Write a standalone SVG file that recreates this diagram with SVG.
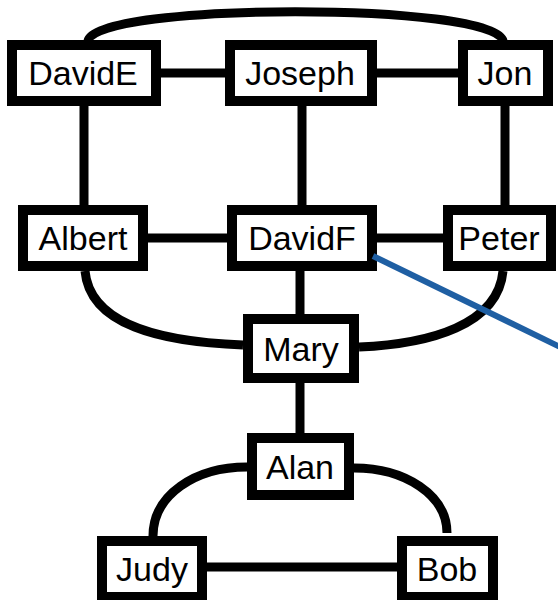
<svg xmlns="http://www.w3.org/2000/svg" width="558" height="600" viewBox="0 0 558 600">
<style>
.box{fill:#fff;stroke:#000;stroke-width:10}
.lbl{font-family:"Liberation Sans",Arial,sans-serif;font-size:34px;fill:#000;text-anchor:middle}
.edge{fill:none;stroke:#000;stroke-width:9}
</style>
<rect width="558" height="600" fill="#fff"/>
<g id="connectors">
<path class="edge" d="M88 41 C95 2,495 2,503 41"/>
<path class="edge" d="M161 73 H225"/>
<path class="edge" d="M377 73 H458"/>
<path class="edge" d="M84 106 V205"/>
<path class="edge" d="M302 106 V205"/>
<path class="edge" d="M505 106 V205"/>
<path class="edge" d="M148 238 H227"/>
<path class="edge" d="M377 238 H443"/>
<path class="edge" d="M300 271 V314"/>
<path class="edge" d="M85 271 C90 325,160 342,243 345"/>
<path class="edge" d="M503 271 C498 325,430 344,359 347"/>
<path class="edge" d="M300 383 V433"/>
<path class="edge" d="M247 467 C195 467,153 495,153 536"/>
<path class="edge" d="M354 468 C405 468,447 495,447 533"/>
<path class="edge" d="M207 567 H397"/>
</g>
<g id="DavidE"><rect class="box" x="12" y="45" width="144" height="56"/><text class="lbl" x="83" y="85">DavidE</text></g>
<g id="Joseph"><rect class="box" x="230" y="45" width="142" height="56"/><text class="lbl" x="300" y="85">Joseph</text></g>
<g id="Jon"><rect class="box" x="463" y="45" width="85" height="56"/><text class="lbl" x="505" y="85">Jon</text></g>
<g id="Albert"><rect class="box" x="23" y="210" width="120" height="56"/><text class="lbl" x="83" y="250">Albert</text></g>
<g id="DavidF"><rect class="box" x="232" y="210" width="140" height="56"/><text class="lbl" x="302" y="250">DavidF</text></g>
<g id="Peter"><rect class="box" x="448" y="210" width="103" height="56"/><text class="lbl" x="499" y="250">Peter</text></g>
<g id="Mary"><rect class="box" x="248" y="319" width="106" height="59"/><text class="lbl" x="301" y="361">Mary</text></g>
<g id="Alan"><rect class="box" x="252" y="438" width="97" height="57"/><text class="lbl" x="300" y="479">Alan</text></g>
<g id="Judy"><rect class="box" x="102" y="541" width="100" height="56"/><text class="lbl" x="152" y="581">Judy</text></g>
<g id="Bob"><rect class="box" x="402" y="541" width="91" height="56"/><text class="lbl" x="447" y="581">Bob</text></g>
<g id="blue-line"><path d="M373 256 L560 347" fill="none" stroke="#1f5fa3" stroke-width="6"/></g>
</svg>
